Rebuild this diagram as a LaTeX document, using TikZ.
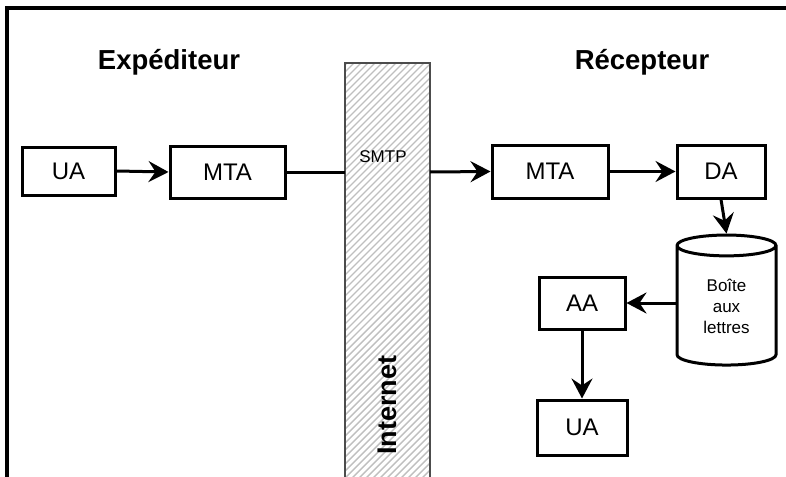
\documentclass[tikz,border=0pt]{standalone}
\usepackage{fontspec}
\setmainfont{Liberation Sans}
\usetikzlibrary{arrows.meta,shapes.geometric}
\begin{document}
\begin{tikzpicture}[x=1pt,y=-1pt,
  box/.style={draw,line width=3pt,minimum width=#1,minimum height=52pt,inner sep=0pt,font=\fontsize{24}{28}\selectfont},
  box/.default=90pt,
  title/.style={font=\fontsize{27.5}{32}\selectfont\bfseries},
  conn/.style={line width=3pt,-{Stealth[length=20pt,width=21pt,inset=7pt]}},
  plain/.style={line width=3pt}]
\useasboundingbox (0,0) rectangle (786,476);
\clip (0,0) rectangle (786,476);
\draw[line width=3.2pt] (7,8) rectangle (800,490);
\node[title] (exp) at (169,62) {Expéditeur};
\node[title] (rec) at (642,62) {Récepteur};
% internet bar
\begin{scope}
\clip (345,63) rectangle (430,480);
\foreach \i in {0,...,90}{
  \draw[gray!50,line width=1.4pt] (340,63+\i*7) -- (440,-37+\i*7);
}
\end{scope}
\draw[line width=1.5pt,gray!60!black] (345,480) -- (345,63) -- (430,63) -- (430,480);
\coordinate (barL) at (345,172);
\coordinate (barR) at (430,172);
\node[font=\fontsize{17}{20}\selectfont] (smtp) at (383,157) {SMTP};
\node[rotate=90,font=\fontsize{27}{32}\selectfont\bfseries] (inet) at (387,405) {Internet};
% nodes
\node[box=93pt,minimum height=48pt] (ua1) at (68.5,171) {UA};
\node[box=115pt] (mta1) at (227.5,172) {MTA};
\node[box=116pt,minimum height=53pt] (mta2) at (550,171.5) {MTA};
\node[box=88pt,minimum height=53pt] (da) at (721,171.5) {DA};
\node[cylinder,shape border rotate=90,draw,line width=3pt,minimum width=99pt,minimum height=130pt,aspect=0.45,inner sep=0pt,align=center,font=\fontsize{17}{21}\selectfont] (bal) at (726.5,306) {Boîte\\aux\\lettres};
\node[box=86pt] (aa) at (582,303) {AA};
\node[box=90pt,minimum height=55pt] (ua2) at (582,427.5) {UA};
% connectors
\draw[conn] (ua1.east) -- (mta1.west);
\draw[plain] (mta1.east) -- (barL);
\draw[conn] (barR) -- (mta2.west);
\draw[conn] (mta2.east) -- (da.west);
\draw[conn] (da.south) -- (bal.top);
\draw[conn] (bal.west |- aa.east) -- (aa.east);
\draw[conn] (aa.south) -- (ua2.north);
\end{tikzpicture}
\end{document}
